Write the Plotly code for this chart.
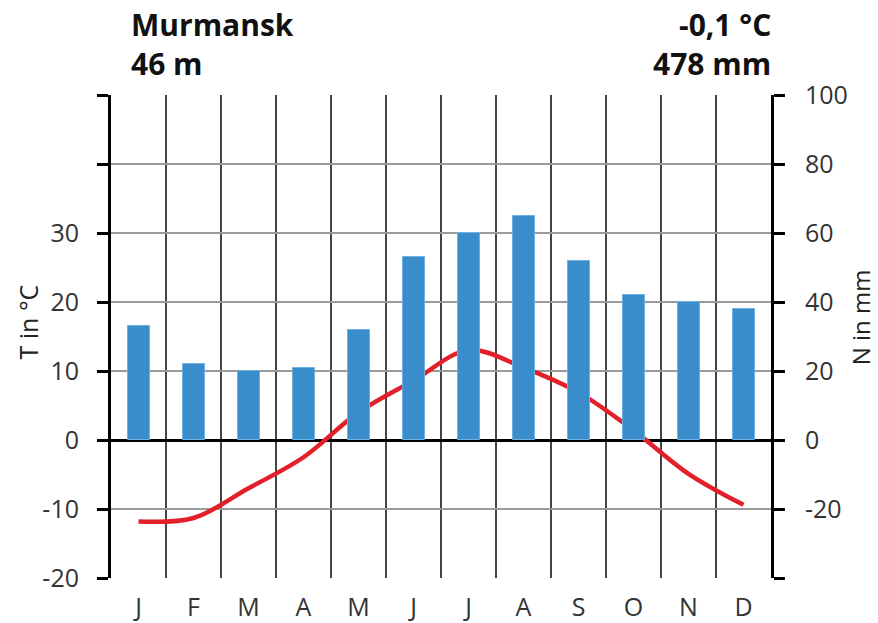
import plotly.graph_objects as go

months = ["J", "F", "M", "A", "M", "J", "J", "A", "S", "O", "N", "D"]
precip_mm = [33, 22, 20, 21, 32, 53, 60, 65, 52, 42, 40, 38]
temp_c = [-11.8, -11.3, -7.0, -2.5, 4.0, 8.6, 13.0, 10.5, 6.9, 1.4, -4.9, -9.4]

t_ticks = [-20, -10, 0, 10, 20, 30, 40, 50]
t_labels = ["-20", "-10", "0", "10", "20", "30", "", ""]
n_ticks = [-40, -20, 0, 20, 40, 60, 80, 100]
n_labels = ["", "-20", "0", "20", "40", "60", "80", "100"]

station = "Murmansk"
elevation = "46 m"
annual_temp = "-0,1 °C"
annual_precip = "478 mm"

x = list(range(1, 13))

fig = go.Figure()
fig.add_trace(go.Bar(
    x=x, y=precip_mm, yaxis="y2", width=0.4,
    marker=dict(color="#3A8DCB", line=dict(color="#6FB0E0", width=1)),
    showlegend=False,
))
fig.add_trace(go.Scatter(
    x=x, y=temp_c, mode="lines", line=dict(color="#E3202A", width=4.5, shape="spline", smoothing=1.0),
    showlegend=False,
))

font_ticks = dict(family="Open Sans", size=25, color="#333333")

fig.update_layout(
    width=878, height=623,
    margin=dict(l=111, r=107, t=95, b=45, autoexpand=False),
    plot_bgcolor="white", paper_bgcolor="white",
    xaxis=dict(
        range=[0.5, 12.5], tickvals=x, ticktext=months, showgrid=False,
        ticks="", tickfont=font_ticks, zeroline=False, showline=False,
        ticklabelstandoff=12,
        minor=dict(tick0=0.5, dtick=1, showgrid=True, gridcolor="#444444", gridwidth=1.5),
        fixedrange=True,
    ),
    yaxis=dict(
        range=[-20, 50], tickvals=t_ticks, ticktext=t_labels, tickfont=font_ticks,
        showgrid=True, gridcolor="#9A9A9A", gridwidth=1.5,
        zeroline=True, zerolinecolor="#000000", zerolinewidth=3,
        showline=True, linecolor="#000000", linewidth=3,
        ticks="outside", ticklen=11, tickwidth=3, tickcolor="#000000",
        ticklabelstandoff=13,
    ),
    yaxis2=dict(
        range=[-40, 100], tickvals=n_ticks, ticktext=n_labels, tickfont=font_ticks,
        overlaying="y", side="right", showgrid=False, zeroline=False,
        showline=True, linecolor="#000000", linewidth=3,
        ticks="outside", ticklen=11, tickwidth=3, tickcolor="#000000",
        ticklabelstandoff=15,
    ),
    bargap=0,
)

title_font = dict(family="Open Sans", size=30, color="#111111", weight="bold")
fig.add_annotation(text=station, xref="paper", yref="paper", x=0.028, y=1.145,
                   xanchor="left", yanchor="middle", showarrow=False, font=title_font)
fig.add_annotation(text=elevation, xref="paper", yref="paper", x=0.028, y=1.066,
                   xanchor="left", yanchor="middle", showarrow=False, font=title_font)
fig.add_annotation(text=annual_temp, xref="paper", yref="paper", x=1.003, y=1.145,
                   xanchor="right", yanchor="middle", showarrow=False, font=title_font)
fig.add_annotation(text=annual_precip, xref="paper", yref="paper", x=1.003, y=1.066,
                   xanchor="right", yanchor="middle", showarrow=False, font=title_font)

fig.add_annotation(text="T in °C", xref="paper", yref="paper", x=-0.125, y=0.53,
                   xanchor="center", yanchor="middle", textangle=-90, showarrow=False,
                   font=dict(family="Open Sans", size=25, color="#222222"))
fig.add_annotation(text="N in mm", xref="paper", yref="paper", x=1.135, y=0.54,
                   xanchor="center", yanchor="middle", textangle=-90, showarrow=False,
                   font=dict(family="Open Sans", size=24, color="#222222"))

fig.write_html("out.html", config={"displayModeBar": False},
               post_script="document.body.style.margin='0px';")
